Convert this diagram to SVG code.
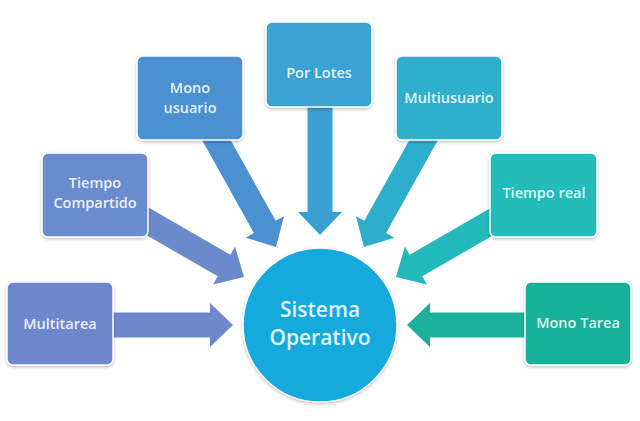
<svg xmlns="http://www.w3.org/2000/svg" width="640" height="421" viewBox="0 0 640 421">
<defs>
<filter id="sh" x="-10%" y="-10%" width="120%" height="125%">
<feDropShadow dx="0" dy="1.5" stdDeviation="1.5" flood-color="#000" flood-opacity="0.25"/>
</filter>
<path id="arr" d="M -134,-12.5 L -23,-12.5 L -23,-22 L 0,0 L -23,22 L -23,12.5 L -134,12.5 Z"/>
</defs>
<style>
.box{stroke:#fff;stroke-width:1.5;filter:url(#sh)}
.lbl{font-family:"Open Sans","DejaVu Sans",sans-serif;font-size:14.5px;font-weight:600;fill:#fff;fill-opacity:0.88;text-anchor:middle}
.big{font-family:"Open Sans","DejaVu Sans",sans-serif;font-size:21px;font-weight:600;fill:#fff;fill-opacity:0.88;text-anchor:middle}
</style>
<rect width="640" height="421" fill="#fff"/>
<g id="connectors">
<use href="#arr" transform="translate(233,325)" fill="#6f87cb"/>
<use href="#arr" transform="translate(244,277) rotate(30)" fill="#6a8acb"/>
<use href="#arr" transform="translate(276,247) rotate(60.85)" fill="#4b90d0"/>
<use href="#arr" transform="translate(320,235) rotate(90)" fill="#3a9fd3"/>
<use href="#arr" transform="translate(364,247) rotate(119.15)" fill="#2eaecd"/>
<use href="#arr" transform="translate(396,277) rotate(150)" fill="#22b9bb"/>
<use href="#arr" transform="translate(407,325) rotate(180)" fill="#1ab09a"/>
</g>
<g id="multitarea">
<rect class="box" x="7" y="282" width="106" height="83" rx="6" fill="#6e86cb"/>
<text class="lbl" x="60" y="329">Multitarea</text>
</g>
<g id="tiempo-compartido">
<rect class="box" x="42" y="153" width="106" height="84" rx="6" fill="#6a8bcd"/>
<text class="lbl" x="95" y="188">Tiempo</text>
<text class="lbl" x="95" y="208">Compartido</text>
</g>
<g id="mono-usuario">
<rect class="box" x="137" y="56" width="106" height="84" rx="6" fill="#4b90d0"/>
<text class="lbl" x="190" y="93">Mono</text>
<text class="lbl" x="190" y="113">usuario</text>
</g>
<g id="por-lotes">
<rect class="box" x="266" y="22" width="106" height="85" rx="6" fill="#3aa2d4"/>
<text class="lbl" x="319" y="78">Por Lotes</text>
</g>
<g id="multiusuario">
<rect class="box" x="396" y="56" width="106" height="84" rx="6" fill="#2fafcb"/>
<text class="lbl" x="449" y="103">Multiusuario</text>
</g>
<g id="tiempo-real">
<rect class="box" x="490" y="153" width="107" height="84" rx="6" fill="#20bcbb"/>
<text class="lbl" x="544" y="198">Tiempo real</text>
</g>
<g id="mono-tarea">
<rect class="box" x="525" y="282" width="106" height="83" rx="6" fill="#19b199"/>
<text class="lbl" x="578" y="328">Mono Tarea</text>
</g>
<g id="sistema-operativo">
<circle class="box" cx="320" cy="325" r="77" fill="#15a9dd"/>
<text class="big" x="320" y="317">Sistema</text>
<text class="big" x="320" y="345">Operativo</text>
</g>
</svg>
